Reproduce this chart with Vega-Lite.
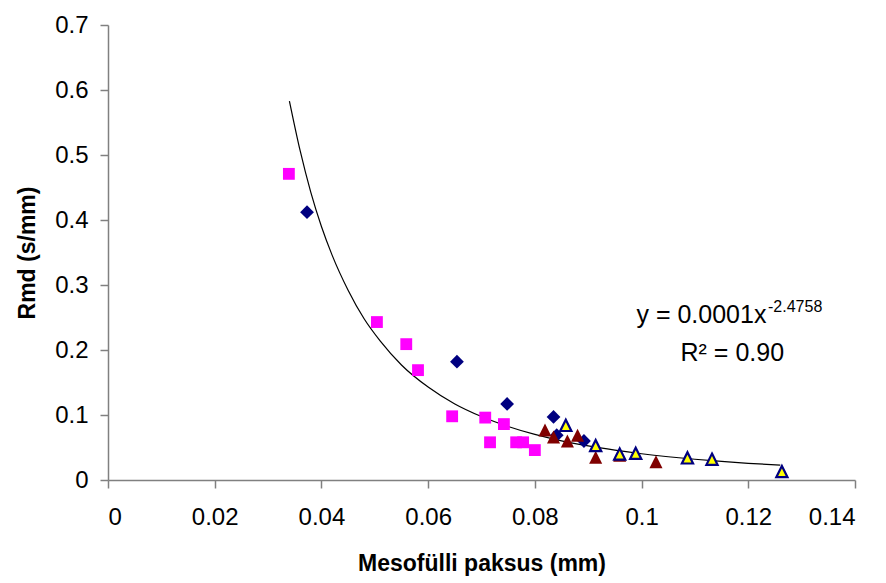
{
  "$schema": "https://vega.github.io/schema/vega-lite/v6.json",
  "width": 747,
  "height": 455,
  "autosize": {"type": "none"},
  "padding": {"left": 108, "top": 25, "right": 31, "bottom": 103},
  "background": "white",
  "config": {
    "view": {"stroke": null},
    "font": "Liberation Sans",
    "axis": {
      "grid": false,
      "domainColor": "#808080",
      "tickColor": "#808080",
      "domainWidth": 1.5,
      "tickWidth": 1.5,
      "tickSize": 8,
      "labelFont": "Liberation Sans",
      "labelFontSize": 24,
      "labelColor": "black",
      "titleFont": "Liberation Sans",
      "titleFontSize": 23,
      "titleFontWeight": "bold",
      "titleColor": "black"
    }
  },
  "datasets": {
    "squares": [
      {"x": 0.0339, "y": 0.471},
      {"x": 0.0504, "y": 0.243},
      {"x": 0.0559, "y": 0.209},
      {"x": 0.0581, "y": 0.169},
      {"x": 0.0645, "y": 0.098},
      {"x": 0.0707, "y": 0.096},
      {"x": 0.0716, "y": 0.058},
      {"x": 0.0742, "y": 0.086},
      {"x": 0.0765, "y": 0.058},
      {"x": 0.0778, "y": 0.058},
      {"x": 0.0800, "y": 0.046}
    ],
    "diamonds": [
      {"x": 0.0373, "y": 0.412},
      {"x": 0.0654, "y": 0.182},
      {"x": 0.0748, "y": 0.117},
      {"x": 0.0835, "y": 0.097},
      {"x": 0.0841, "y": 0.069},
      {"x": 0.0892, "y": 0.060}
    ],
    "redtri": [
      {"x": 0.0819, "y": 0.077},
      {"x": 0.0835, "y": 0.066},
      {"x": 0.0861, "y": 0.060},
      {"x": 0.0880, "y": 0.069},
      {"x": 0.0914, "y": 0.035},
      {"x": 0.0959, "y": 0.038},
      {"x": 0.1027, "y": 0.028}
    ],
    "yellowtri": [
      {"x": 0.0858, "y": 0.084},
      {"x": 0.0914, "y": 0.053},
      {"x": 0.0959, "y": 0.040},
      {"x": 0.0989, "y": 0.041},
      {"x": 0.1086, "y": 0.034},
      {"x": 0.1132, "y": 0.032},
      {"x": 0.1263, "y": 0.013}
    ],
    "trend": [
      {"x": 0.034, "y": 0.583},
      {"x": 0.036, "y": 0.507},
      {"x": 0.038, "y": 0.443},
      {"x": 0.040, "y": 0.390},
      {"x": 0.042, "y": 0.346},
      {"x": 0.045, "y": 0.292},
      {"x": 0.048, "y": 0.248},
      {"x": 0.051, "y": 0.214},
      {"x": 0.055, "y": 0.177},
      {"x": 0.060, "y": 0.143},
      {"x": 0.065, "y": 0.117},
      {"x": 0.070, "y": 0.0976},
      {"x": 0.075, "y": 0.0823},
      {"x": 0.080, "y": 0.0701},
      {"x": 0.085, "y": 0.0603},
      {"x": 0.090, "y": 0.0524},
      {"x": 0.095, "y": 0.0459},
      {"x": 0.100, "y": 0.0404},
      {"x": 0.105, "y": 0.0358},
      {"x": 0.110, "y": 0.0319},
      {"x": 0.115, "y": 0.0286},
      {"x": 0.120, "y": 0.0257},
      {"x": 0.126, "y": 0.0228}
    ],
    "eqmain": [{"x": 0.1234, "y": 0.2415, "t": "y = 0.0001x"}],
    "eqsup": [{"x": 0.1237, "y": 0.259, "t": "-2.4758"}],
    "eqr2": [{"x": 0.1170, "y": 0.183, "t": "R² = 0.90"}]
  },
  "encoding": {
    "x": {
      "field": "x",
      "type": "quantitative",
      "scale": {"domain": [0, 0.14], "nice": false, "zero": false},
      "axis": {
        "values": [0, 0.02, 0.04, 0.06, 0.08, 0.1, 0.12, 0.14],
        "format": "~g",
        "labelPadding": 17,
        "title": "Mesofülli paksus (mm)",
        "titleBaseline": "alphabetic",
        "titleY": 90
      }
    },
    "y": {
      "field": "y",
      "type": "quantitative",
      "scale": {"domain": [0, 0.7], "nice": false, "zero": false},
      "axis": {
        "values": [0, 0.1, 0.2, 0.3, 0.4, 0.5, 0.6, 0.7],
        "format": "~g",
        "labelPadding": 12,
        "title": "Rmd (s/mm)",
        "titleBaseline": "alphabetic",
        "titleX": -74
      }
    }
  },
  "layer": [
    {
      "data": {"name": "trend"},
      "mark": {"type": "line", "color": "black", "strokeWidth": 1.2, "interpolate": "monotone"}
    },
    {
      "data": {"name": "squares"},
      "mark": {"type": "point", "shape": "square", "filled": true, "color": "#FF00FF", "size": 140, "opacity": 1}
    },
    {
      "data": {"name": "diamonds"},
      "mark": {"type": "point", "shape": "diamond", "filled": true, "color": "#000080", "size": 190, "opacity": 1}
    },
    {
      "data": {"name": "redtri"},
      "mark": {"type": "point", "shape": "M0,-1L1,1L-1,1Z", "filled": true, "color": "#800000", "size": 170, "opacity": 1}
    },
    {
      "data": {"name": "yellowtri"},
      "mark": {"type": "point", "shape": "M0,-1L1,1L-1,1Z", "filled": true, "fill": "#FFFF00", "stroke": "#000080", "strokeWidth": 2.2, "size": 125, "opacity": 1}
    },
    {
      "data": {"name": "eqmain"},
      "mark": {"type": "text", "align": "right", "baseline": "alphabetic", "fontSize": 25, "font": "Liberation Sans", "color": "black"},
      "encoding": {"text": {"field": "t"}}
    },
    {
      "data": {"name": "eqsup"},
      "mark": {"type": "text", "align": "left", "baseline": "alphabetic", "fontSize": 16, "font": "Liberation Sans", "color": "black"},
      "encoding": {"text": {"field": "t"}}
    },
    {
      "data": {"name": "eqr2"},
      "mark": {"type": "text", "align": "center", "baseline": "alphabetic", "fontSize": 25, "font": "Liberation Sans", "color": "black"},
      "encoding": {"text": {"field": "t"}}
    }
  ]
}
